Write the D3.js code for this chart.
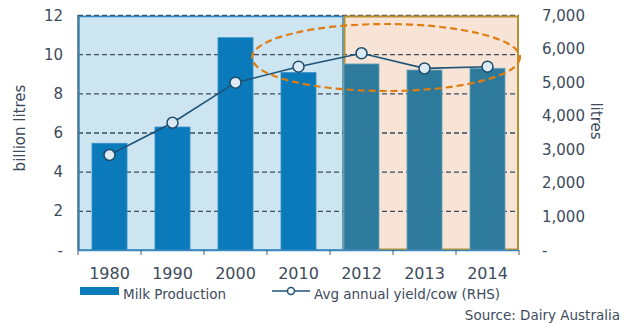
<!DOCTYPE html>
<html><head><meta charset="utf-8">
<script src="https://cdn.jsdelivr.net/npm/d3@7"></script>
<style>body{margin:0;background:#fff}svg{display:block}text{font-family:"DejaVu Sans",Verdana,sans-serif;fill:#3d4b5c}</style>
</head><body><svg id="c" width="632" height="324"></svg>
<script>
const years = ["1980","1990","2000","2010","2012","2013","2014"];
const milkProduction = [5.45, 6.28, 10.84, 9.06, 9.5, 9.19, 9.28];
const yieldPerCow = [2830, 3790, 4985, 5460, 5860, 5410, 5460];
const leftTicks = [0, 2, 4, 6, 8, 10, 12];
const rightTicks = [0, 1000, 2000, 3000, 4000, 5000, 6000, 7000];

const svg = d3.select("#c");
const L = 78, R = 519, T = 15, B = 250;
const x = d3.scaleBand().domain(years).range([L, R]).paddingInner(0.444).paddingOuter(0.222);
const xb = d3.scaleBand().domain(years).range([L, R]);
const yL = d3.scaleLinear().domain([0, 12]).range([B, T]);
const yR = d3.scaleLinear().domain([0, 7000]).range([B, T]);
const split = x("2012") - 1;

// background regions
svg.append("rect").attr("x", L).attr("y", T).attr("width", split - L).attr("height", B - T)
  .attr("fill", "#cde4f1");
svg.append("rect").attr("x", split).attr("y", T).attr("width", R - split).attr("height", B - T)
  .attr("fill", "#f8e4d7");

// gridlines
svg.append("g").selectAll("line").data(leftTicks.filter(d => d > 0)).join("line")
  .attr("x1", L).attr("x2", R).attr("y1", d => yL(d) + 0.5).attr("y2", d => yL(d) + 0.5)
  .attr("stroke", "#3d4b5a").attr("stroke-width", 1.4).attr("stroke-dasharray", "5,3");

// region borders
svg.append("rect").attr("x", L + 1).attr("y", T + 1.5).attr("width", split - L - 1).attr("height", B - T - 1.5)
  .attr("fill", "none").attr("stroke", "#2e86c1").attr("stroke-width", 1.5);
svg.append("rect").attr("x", split + 1.5).attr("y", T + 1.5).attr("width", R - split - 2.5).attr("height", B - T - 2)
  .attr("fill", "none").attr("stroke", "#b99030").attr("stroke-width", 2);
svg.append("line").attr("x1", L).attr("x2", L).attr("y1", T).attr("y2", B)
  .attr("stroke", "#4a6a85").attr("stroke-width", 1.5);

// bars
svg.append("g").selectAll("rect").data(years).join("rect")
  .attr("x", d => x(d)).attr("width", x.bandwidth())
  .attr("y", (d, i) => yL(milkProduction[i])).attr("height", (d, i) => B - yL(milkProduction[i]))
  .attr("fill", (d, i) => i < 4 ? "#0a7aba" : "#2d7a9c")
  .attr("stroke", (d, i) => i < 4 ? "#3b8fc6" : "#6ea3b8").attr("stroke-width", 0.8);

// x axis line and ticks
svg.append("line").attr("x1", L).attr("x2", R).attr("y1", B + 0.5).attr("y2", B + 0.5)
  .attr("stroke", "#3a86c0").attr("stroke-width", 1.5);
svg.append("g").selectAll("line").data(d3.range(years.length + 1)).join("line")
  .attr("x1", i => L + i * xb.step()).attr("x2", i => L + i * xb.step())
  .attr("y1", B).attr("y2", B + 5).attr("stroke", "#4a5a6a").attr("stroke-width", 1);

// x labels
svg.append("g").selectAll("text").data(years).join("text")
  .attr("x", d => xb(d) + xb.bandwidth() / 2).attr("y", 279)
  .attr("text-anchor", "middle").attr("font-size", 16).text(d => d);

// left axis labels
svg.append("g").selectAll("text").data(leftTicks).join("text")
  .attr("x", 63).attr("y", d => yL(d) + 5.5).attr("text-anchor", "end").attr("font-size", 15)
  .text(d => d === 0 ? "-" : d);
svg.append("text").attr("transform", "translate(25,128) rotate(-90)").attr("text-anchor", "middle")
  .attr("font-size", 15).text("billion litres");

// right axis labels
svg.append("g").selectAll("text").data(rightTicks).join("text")
  .attr("x", 542).attr("y", d => yR(d) + 5.5).attr("text-anchor", "start").attr("font-size", 15)
  .text(d => d === 0 ? "-" : d3.format(",")(d));
svg.append("text").attr("transform", "translate(591,121) rotate(90)").attr("text-anchor", "middle")
  .attr("font-size", 15).text("litres");

// line
const line = d3.line().x((d, i) => xb(years[i]) + xb.bandwidth() / 2).y(d => yR(d));
svg.append("path").datum(yieldPerCow).attr("d", line).attr("fill", "none")
  .attr("stroke", "#1d5478").attr("stroke-width", 1.6);
svg.append("g").selectAll("circle").data(yieldPerCow).join("circle")
  .attr("cx", (d, i) => xb(years[i]) + xb.bandwidth() / 2).attr("cy", d => yR(d)).attr("r", 5.5)
  .attr("fill", "#dceaf3").attr("stroke", "#1d4d6d").attr("stroke-width", 1.5);

// ellipse
svg.append("ellipse").attr("cx", 386).attr("cy", 57.5).attr("rx", 134).attr("ry", 33.5)
  .attr("fill", "none").attr("stroke", "#e07d10").attr("stroke-width", 2.2).attr("stroke-dasharray", "7,4");

// legend
svg.append("rect").attr("x", 80).attr("y", 287).attr("width", 39).attr("height", 8).attr("fill", "#0a7aba");
svg.append("text").attr("x", 123).attr("y", 299).attr("font-size", 13.5).text("Milk Production");
svg.append("line").attr("x1", 272).attr("x2", 310).attr("y1", 291).attr("y2", 291)
  .attr("stroke", "#1d5478").attr("stroke-width", 1.6);
svg.append("circle").attr("cx", 291).attr("cy", 291).attr("r", 3.5).attr("fill", "#fff")
  .attr("stroke", "#1d5478").attr("stroke-width", 1.5);
svg.append("text").attr("x", 314).attr("y", 299).attr("font-size", 13.5).text("Avg annual yield/cow (RHS)");
svg.append("text").attr("x", 620).attr("y", 320).attr("text-anchor", "end").attr("font-size", 13.5)
  .text("Source: Dairy Australia");
</script></body></html>
